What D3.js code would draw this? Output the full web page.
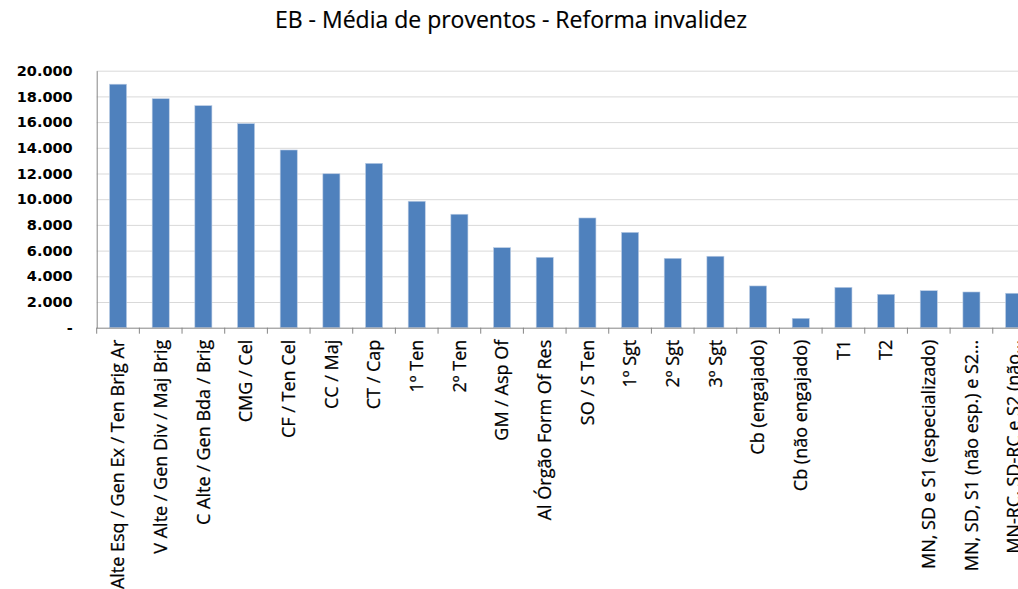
<!DOCTYPE html>
<html>
<head>
<meta charset="utf-8">
<script src="https://cdn.jsdelivr.net/npm/d3@7"></script>
<style>
  html, body { margin: 0; padding: 0; background: #fff; overflow: hidden; }
  svg { display: block; }
</style>
</head>
<body>
<svg id="chart" width="1018" height="589"></svg>
<script>
const title = "EB - Média de proventos - Reforma invalidez";
const categories = [
  "Alte Esq / Gen Ex / Ten Brig Ar",
  "V Alte / Gen Div / Maj Brig",
  "C Alte / Gen Bda / Brig",
  "CMG / Cel",
  "CF / Ten Cel",
  "CC / Maj",
  "CT / Cap",
  "1º Ten",
  "2º Ten",
  "GM / Asp Of",
  "Al Órgão Form Of Res",
  "SO / S Ten",
  "1º Sgt",
  "2º Sgt",
  "3º Sgt",
  "Cb (engajado)",
  "Cb (não engajado)",
  "T1",
  "T2",
  "MN, SD e S1 (especializado)",
  "MN, SD, S1 (não esp.) e S2...",
  "MN-RC, SD-RC e S2 (não..."
];
const values = [18950, 17820, 17280, 15880, 13830, 11980, 12790, 9840, 8830, 6230, 5480, 8540, 7420, 5400, 5560, 3250, 730, 3140, 2600, 2880, 2780, 2680];
const yTicks = [0, 2000, 4000, 6000, 8000, 10000, 12000, 14000, 16000, 18000, 20000];
const yTickLabels = ["-", "2.000", "4.000", "6.000", "8.000", "10.000", "12.000", "14.000", "16.000", "18.000", "20.000"];

(function () {
const svg = d3.select("#chart");
const mLeft = 96.7, mTop = 70.7, mBottom = 327.7;
const step = 42.67;
const mRight = mLeft + step * categories.length;

const x = d3.scaleBand().domain(categories).range([mLeft, mRight]).paddingInner(0).paddingOuter(0);
const y = d3.scaleLinear().domain([0, 20000]).range([mBottom, mTop]);

// gridlines
const grid = svg.append("g").attr("transform", `translate(${mLeft},0)`)
  .call(d3.axisLeft(y).tickValues(yTicks.filter(d => d > 0)).tickSize(-(mRight - mLeft)).tickFormat(""));
grid.select(".domain").remove();
grid.selectAll("line").attr("stroke", "#d9d9d9").attr("stroke-width", 1);

// bars
const barW = x.bandwidth() * 0.4;
svg.append("g").selectAll("rect").data(values).join("rect")
  .attr("x", (d, i) => x(categories[i]) + (x.bandwidth() - barW) / 2)
  .attr("y", d => y(d))
  .attr("width", barW)
  .attr("height", d => y(0) - y(d))
  .attr("fill", "#4f81bd")
  .attr("stroke", "#bccde4")
  .attr("stroke-width", 0.6);

// y axis
const yAxis = svg.append("g").attr("transform", `translate(${mLeft},0)`)
  .call(d3.axisLeft(y).tickValues(yTicks).tickSize(0).tickPadding(24)
    .tickFormat((d, i) => yTickLabels[i]));
yAxis.select(".domain").attr("stroke", "#868686");
yAxis.selectAll("text")
  .attr("font-family", "DejaVu Sans")
  .attr("font-weight", "bold")
  .attr("font-size", "14.5px")
  .attr("fill", "#000");

// x axis
const xAxis = svg.append("g").attr("transform", `translate(0,${mBottom})`)
  .call(d3.axisBottom(x).tickSize(0).tickPadding(0));
xAxis.select(".domain").attr("stroke", "#868686").attr("d", `M${mLeft},0.5H${mRight}`);
xAxis.selectAll("text")
  .attr("font-family", "Open Sans")
  .attr("font-size", "18px")
  .attr("fill", "#000")
  .attr("stroke", "#000")
  .attr("stroke-width", 0.25)
  .attr("text-anchor", "end")
  .attr("transform", "translate(0,12) rotate(-90)")
  .attr("x", 0).attr("y", 0).attr("dy", "0.35em");

// boundary ticks
const bounds = categories.map(c => x(c));
svg.append("g").selectAll("line").data(bounds).join("line")
  .attr("x1", d => d).attr("x2", d => d)
  .attr("y1", mBottom).attr("y2", mBottom + 6)
  .attr("stroke", "#868686").attr("stroke-width", 1);

// title
svg.append("text")
  .attr("x", 511).attr("y", 28)
  .attr("text-anchor", "middle")
  .attr("font-family", "Open Sans")
  .attr("font-size", "23px")
  .attr("fill", "#000")
  .attr("stroke", "#000")
  .attr("stroke-width", 0.2)
  .text(title);
})();
</script>
</body>
</html>
